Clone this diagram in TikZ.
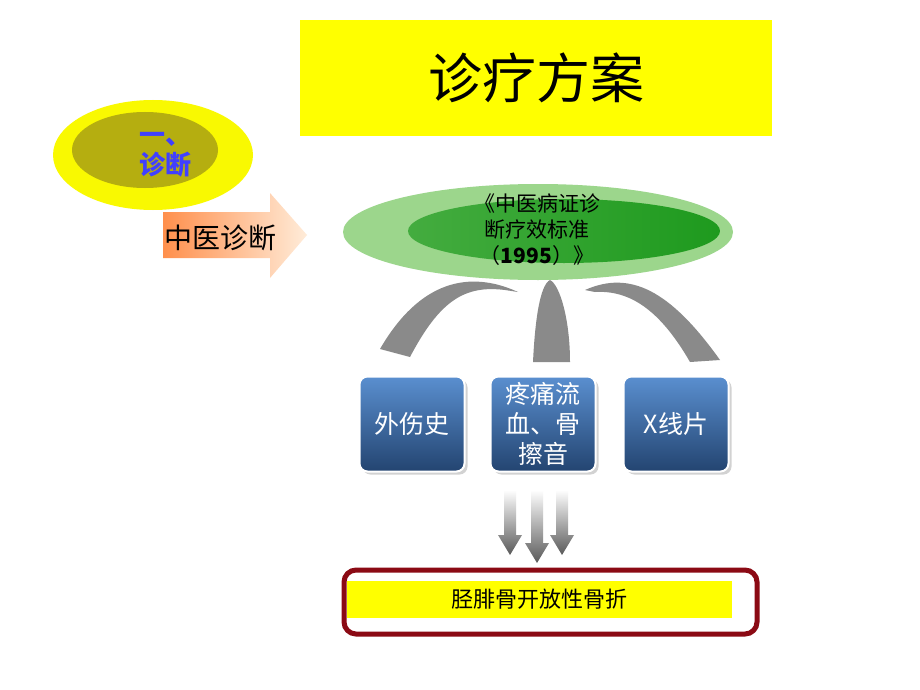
\documentclass[tikz,border=0pt]{standalone}
\usepackage{fontspec}
\setmainfont{Noto Sans CJK SC}
\newfontfamily\cjk{Noto Sans CJK SC}
\usetikzlibrary{shapes.geometric,shadows}
\definecolor{tyel}{HTML}{FFFF00}
\definecolor{olive}{HTML}{B5AE10}
\definecolor{lgreen}{HTML}{9CD68C}
\definecolor{dgreen}{HTML}{1E9A1E}
\definecolor{bluebox}{HTML}{2F5B96}
\definecolor{bluetop}{HTML}{5A8FD0}
\definecolor{darkred}{HTML}{8B0A14}
\definecolor{archgray}{HTML}{8A8A8A}
\tikzset{
  bluebox/.style={draw=white,line width=2pt,rounded corners=8pt,top color=bluetop,bottom color=bluebox!75!black,
    minimum width=105pt,minimum height=95pt,text=white,font=\cjk\fontsize{25}{30}\selectfont,align=center,inner sep=0pt,
    drop shadow={shadow xshift=3pt,shadow yshift=-3pt,opacity=.35}},
  arch/.style={fill=archgray},
  downarr/.style={top color=white,bottom color=black!65,draw=none},
}
\begin{document}
\begin{tikzpicture}[x=1pt,y=-1pt]
\useasboundingbox (0,0) rectangle (920,690);
\fill[white] (0,0) rectangle (920,690);
% title
\node[fill=tyel,minimum width=472pt,minimum height=115pt,inner sep=0pt,font=\cjk\fontsize{54}{60}\selectfont] (title) at (536,78) {诊疗方案};
% yellow ellipses
\fill[tyel!92!olive] (153,155) ellipse [x radius=100,y radius=55];
\fill[olive] (145,150) ellipse [x radius=73,y radius=38];
\node[font=\cjk\bfseries\fontsize{26}{30}\selectfont,text=blue!75!white,align=center] (diag) at (165,155) {一、\\诊断};
% orange arrow
\shade[left color=orange!75!red!70!white,right color=orange!15!white] (163,212) -- (270,212) -- (270,193) -- (307,235) -- (270,278) -- (270,258) -- (163,258) -- cycle;
\node[font=\cjk\fontsize{28}{32}\selectfont,anchor=west,inner sep=1pt] (zy) at (163,238) {中医诊断};
% green ellipses
\fill[lgreen] (538,232) ellipse [x radius=195,y radius=48];
\shade[left color=dgreen!70!lgreen,right color=dgreen] (564,231) ellipse [x radius=156,y radius=32];
\node[font=\cjk\fontsize{21}{26}\selectfont,align=center] (std) at (537,230) {《中医病证诊\\断疗效标准\\（\textbf{1995}）》};
% arches
\fill[arch] (380,349) .. controls (420,280) and (470,270) .. (518,292) -- (505,290) .. controls (465,285) and (440,300) .. (410,357) -- cycle;
\fill[arch] (533,362) .. controls (535,320) and (540,285) .. (550,280) .. controls (560,285) and (570,320) .. (570,362) -- cycle;
\fill[arch] (585,290) .. controls (630,270) and (670,290) .. (720,360) -- (690,362) .. controls (660,310) and (630,290) .. (595,292) -- cycle;
% blue boxes
\node[bluebox] (b1) at (412,424) {外伤史};
\node[bluebox] (b2) at (543,424) {疼痛流\\血、骨\\擦音};
\node[bluebox] (b3) at (676,424) {X线片};
% down arrows
\foreach \x/\t in {510/555,537/563,562/555}{
  \shade[downarr] (\x-6,490) -- (\x+6,490) -- (\x+6,\t-20) -- (\x+12,\t-20) -- (\x,\t) -- (\x-12,\t-20) -- (\x-6,\t-20) -- cycle;
}
% bottom box
\draw[darkred,line width=5pt,rounded corners=12pt] (344,570) rectangle (757,634);
\node[fill=tyel,minimum width=385pt,minimum height=37pt,inner sep=0pt,font=\cjk\fontsize{22}{26}\selectfont] (res) at (539.5,599) {胫腓骨开放性骨折};
\end{tikzpicture}
\end{document}
